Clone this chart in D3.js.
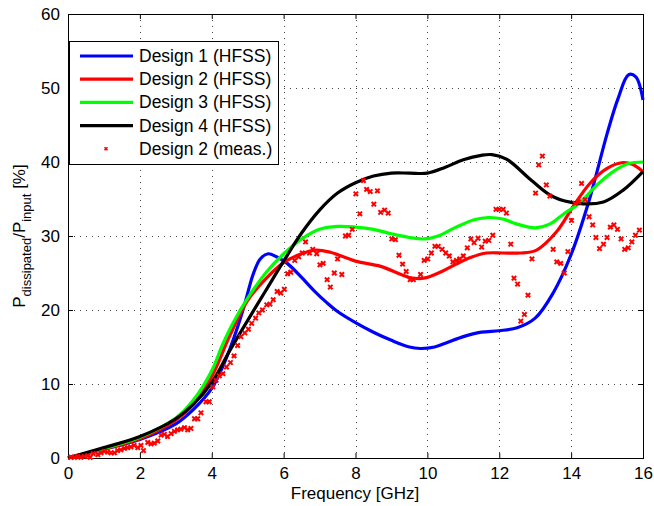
<!DOCTYPE html>
<html>
<head>
<meta charset="utf-8">
<script src="https://cdn.jsdelivr.net/npm/d3@7"></script>
<style>
  body { margin: 0; background: #fff; }
  text { font-family: "Liberation Sans", Arial, Helvetica, sans-serif; }
</style>
</head>
<body>
<svg id="chart" width="654" height="506"></svg>
<script>
// simulated curves, [frequency GHz, dissipated %]
var design1 = [[0,0],[1,1.2],[2,2.5],[3,4.6],[3.5,6.6],[4,9.4],[4.3,12.3],[4.6,16],[4.9,20.5],[5.15,24.8],[5.35,26.9],
    [5.57,27.6],[5.8,27.2],[6.1,26.3],[6.5,24.4],[6.85,22.6],[7.2,21],[7.5,19.8],[8,18.3],[8.5,17],[9,15.9],[9.5,15],
    [9.8,14.8],[10.2,15],[10.5,15.5],[11,16.4],[11.5,17],[12,17.2],[12.5,17.6],[13,18.9],[13.5,22.3],[14,27.5],
    [14.5,34.8],[15,43.8],[15.3,48.5],[15.6,51.8],[15.8,51.5],[16,48.4]];
var design2 = [[0,0],[1,1.2],[2,2.6],[3,5.1],[3.5,7.3],[4,11],[4.5,16.5],[5,21.3],[5.5,24.2],[6,26.4],[6.5,27.6],
    [6.9,28.1],[7.3,27.8],[8,26.6],[8.7,25.9],[9.5,24.4],[9.9,24.3],[10.4,25.2],[10.8,26.2],[11.2,27.1],[11.65,27.7],
    [12.1,27.7],[12.58,27.7],[13.04,28.1],[13.6,30.6],[14.06,34],[14.52,37.1],[14.99,39.1],[15.4,39.9],[15.7,39.7],[16,38.7]];
var design3 = [[0,0],[1,1.3],[2,2.8],[3,5.4],[3.5,7.9],[4,11.8],[4.3,15.3],[4.6,18.3],[5,21.6],[5.5,25],[6,27.6],
    [6.5,29.6],[7,30.9],[7.5,31.3],[8,31.2],[8.5,30.9],[9,30.3],[9.5,29.8],[9.9,29.6],[10.3,30],[10.8,31.2],[11.3,32.2],
    [11.7,32.5],[12.1,32.3],[12.5,31.6],[13,31.1],[13.4,31.6],[13.8,33],[14.25,34.5],[14.7,36.8],[15.2,38.8],[15.6,39.8],[16,40]];
var design4 = [[0,0],[1,1.4],[2,2.9],[3,5.3],[3.5,7.3],[4,10.2],[4.5,14.5],[5,18.6],[5.5,22.6],[6,26.6],[6.5,30.4],
    [7,33.5],[7.5,35.8],[8,37.2],[8.5,38.1],[9,38.5],[9.5,38.5],[10,38.5],[10.5,39.3],[11,40.3],[11.5,40.9],[11.8,41],
    [12.2,40.4],[12.9,37.5],[13.5,35.3],[14.2,34.4],[14.9,34.6],[15.45,36.2],[16,38.7]];

// measured points for design 2
var measF = [0.08,0.18,0.27,0.36,0.45,0.55,0.62,0.70,0.83,0.92,1.01,1.10,1.20,1.29,1.38,1.47,1.57,1.66,1.75,1.84,1.94,2.03,2.10,
    2.22,2.31,2.40,2.50,2.59,2.68,2.77,2.87,2.96,3.05,3.14,3.24,3.33,3.42,3.52,3.61,3.70,3.84,3.93,4.03,4.12,4.21,4.31,4.41,
    4.52,4.62,4.72,4.81,4.92,5.02,5.11,5.22,5.31,5.41,5.53,5.62,5.71,5.82,5.92,6.02,6.11,6.20,6.31,6.42,6.52,6.61,6.72,6.81,
    6.92,7.01,7.10,7.21,7.30,7.41,7.50,7.62,7.72,7.81,7.91,8.01,8.12,8.22,8.31,8.41,8.51,8.61,8.70,8.81,8.91,9.01,9.11,9.21,
    9.31,9.41,9.52,9.61,9.81,9.91,10.01,10.11,10.21,10.30,10.41,10.51,10.61,10.71,10.81,10.90,11.00,11.11,11.21,11.30,11.41,
    11.51,11.61,11.71,11.82,11.91,12.00,12.11,12.20,12.32,12.41,12.51,12.60,12.70,12.80,12.91,13.01,13.10,13.20,13.31,13.41,
    13.50,13.60,13.71,13.81,13.91,14.01,14.11,14.21,14.29,14.39,14.50,14.60,14.69,14.79,14.90,15.00,15.09,15.19,15.29,15.39,
    15.49,15.59,15.69,15.79,15.90];
var measV = [0.1,0.1,0.2,0.1,0.2,0.3,0.1,0.6,0.45,0.7,0.9,0.8,0.7,0.7,1.0,1.1,1.3,1.4,1.5,1.7,1.4,1.7,1.0,
    2.1,1.9,2.0,2.3,3.1,3.2,2.9,3.3,3.6,3.8,3.9,4.1,3.8,4.0,5.3,5.3,6.1,7.6,7.6,9.6,10.5,11.1,11.4,12.3,
    12.9,13.8,15.2,16.4,16.9,17.4,18.2,18.9,19.6,20.0,20.7,20.8,21.4,22.5,22.3,22.8,24.9,25.1,26.7,27.2,27.7,29.2,27.7,28.2,
    27.6,26.1,26.3,24.1,23.1,25.0,26.9,24.8,30.0,30.1,30.9,35.7,33.0,37.5,36.3,36.0,34.3,36.1,33.2,33.5,33.1,29.6,29.5,27.4,
    26.2,25.2,24.1,24.1,24.8,26.7,26.9,27.7,28.6,28.6,28.2,27.7,27.3,26.5,26.7,26.9,27.3,28.4,29.6,29.1,29.7,
    28.5,29.3,29.4,30.1,33.6,33.6,33.6,33.1,28.9,24.3,23.5,18.5,19.4,22.0,26.9,35.8,39.6,40.8,36.9,35.4,
    28.2,26.5,26.3,25.0,27.9,32.1,34.4,34.6,37.1,34.9,32.6,31.5,29.8,28.3,28.9,29.8,31.2,31.5,30.9,29.6,
    28.2,28.4,29.2,30.1,30.8];

var xTicks = [0,2,4,6,8,10,12,14,16];
var yTicks = [0,10,20,30,40,50,60];
var seriesNames = ["Design 1 (HFSS)","Design 2 (HFSS)","Design 3 (HFSS)","Design 4 (HFSS)","Design 2 (meas.)"];
var seriesColors = ["#0000ff","#ff0000","#00ff00","#000000","#ff0000"];

(function() {
    var svg = d3.select('#chart');
    var pLeft = 68, pRight = 643, pTop = 14, pBottom = 458;

    var x = d3.scaleLinear().domain([0,16]).range([pLeft,pRight]);
    var y = d3.scaleLinear().domain([0,60]).range([pBottom,pTop]);

    // grid
    var grid = svg.append('g').attr('class','grid');
    grid.selectAll('line.gx').data(xTicks.slice(1,-1)).enter().append('line')
        .attr('x1',function(d) { return Math.round(x(d)) + 0.5; })
        .attr('x2',function(d) { return Math.round(x(d)) + 0.5; })
        .attr('y1',pTop).attr('y2',pBottom);
    grid.selectAll('line.gy').data(yTicks.slice(1,-1)).enter().append('line')
        .attr('y1',function(d) { return Math.round(y(d)) + 0.5; })
        .attr('y2',function(d) { return Math.round(y(d)) + 0.5; })
        .attr('x1',pLeft).attr('x2',pRight);
    grid.selectAll('line')
        .attr('stroke','#444').attr('stroke-width',1).attr('stroke-dasharray','1,5');

    // axes, ticks pointing inside on all four sides
    svg.append('g').attr('transform','translate(0,'+pBottom+')')
        .call(d3.axisBottom(x).tickValues(xTicks).tickSize(-5).tickPadding(9));
    svg.append('g').attr('transform','translate(0,'+pTop+')')
        .call(d3.axisTop(x).tickValues(xTicks).tickSize(-5).tickFormat(''));
    svg.append('g').attr('transform','translate('+pLeft+',0)')
        .call(d3.axisLeft(y).tickValues(yTicks).tickSize(-5).tickPadding(8));
    svg.append('g').attr('transform','translate('+pRight+',0)')
        .call(d3.axisRight(y).tickValues(yTicks).tickSize(-5).tickFormat(''));
    svg.selectAll('.domain').remove();
    svg.selectAll('.tick line').attr('stroke','#000');
    svg.selectAll('.tick text').attr('font-size',17).attr('fill','#000')
        .style('font-family','"Liberation Sans", Arial, sans-serif');

    svg.append('rect').attr('x',pLeft+0.5).attr('y',pTop+0.5)
        .attr('width',pRight-pLeft).attr('height',pBottom-pTop)
        .attr('fill','none').attr('stroke','#000').attr('stroke-width',1);

    // curves
    var line = d3.line()
        .x(function(d) { return x(d[0]); })
        .y(function(d) { return y(d[1]); })
        .curve(d3.curveCatmullRom.alpha(0.5));

    var designs = [design1, design2, design3, design4];
    designs.forEach(function(data, i) {
        svg.append('path').datum(data)
            .attr('d', line)
            .attr('fill','none')
            .attr('stroke', seriesColors[i])
            .attr('stroke-width', 3.2);
    });

    // measured markers
    var cross = 'M-2.2,-2.2L2.2,2.2M-2.2,2.2L2.2,-2.2';
    svg.append('g').selectAll('path').data(measF).enter().append('path')
        .attr('d', cross)
        .attr('transform', function(d,i) { return 'translate('+x(d)+','+y(measV[i])+')'; })
        .attr('stroke','#ff0000').attr('stroke-width',2).attr('fill','none');

    // legend
    var lg = svg.append('g');
    lg.append('rect').attr('x',69.5).attr('y',41.5).attr('width',209).attr('height',123)
        .attr('fill','#fff').attr('stroke','#000').attr('stroke-width',1);
    seriesNames.forEach(function(name, i) {
        var ly = 56 + i * 23.2;
        if (i < 4) {
            lg.append('line').attr('x1',80).attr('x2',133).attr('y1',ly).attr('y2',ly)
                .attr('stroke',seriesColors[i]).attr('stroke-width',3.2);
        } else {
            lg.append('path').attr('d','M-1.5,-1.5L1.5,1.5M-1.5,1.5L1.5,-1.5')
                .attr('transform','translate(106,'+ly+')')
                .attr('stroke','#ff0000').attr('stroke-width',1.6);
        }
        lg.append('text').attr('x',139).attr('y',ly+6).attr('font-size',17.5)
            .attr('fill','#000').text(name);
    });

    // axis labels
    svg.append('text').attr('x',355).attr('y',499).attr('text-anchor','middle')
        .attr('font-size',17).text('Frequency [GHz]');

    var yl = svg.append('text').attr('transform','translate(25,236) rotate(-90)')
        .attr('text-anchor','middle').attr('font-size',17);
    yl.append('tspan').text('P');
    yl.append('tspan').attr('dy',6).attr('font-size',13).text('dissipated');
    yl.append('tspan').attr('dy',-6).text('/P');
    yl.append('tspan').attr('dy',6).attr('font-size',13).text('input');
    yl.append('tspan').attr('dy',-6).text(' [%]');
})();
</script>
</body>
</html>
